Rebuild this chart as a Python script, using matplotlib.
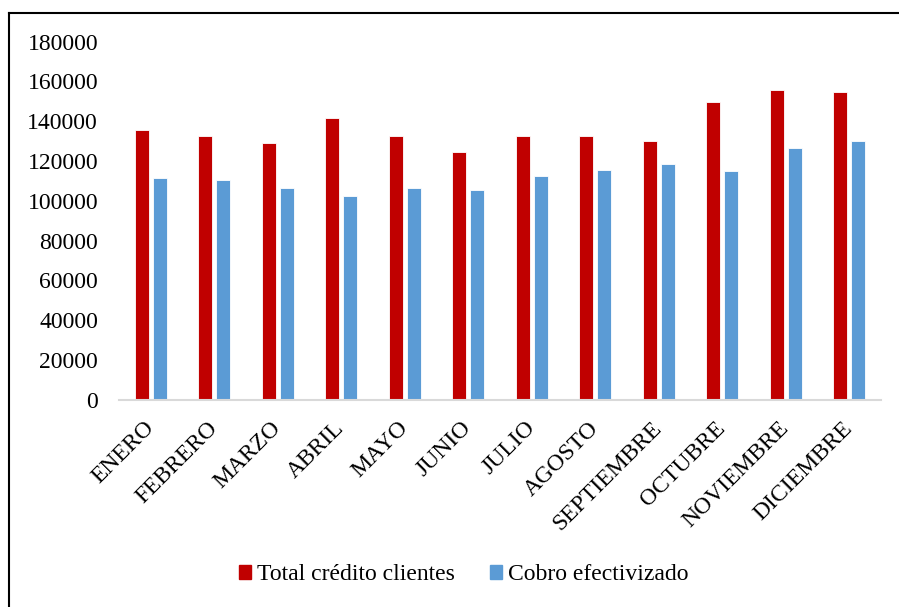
import matplotlib
matplotlib.use("Agg")
import matplotlib.pyplot as plt
from matplotlib.lines import Line2D
from matplotlib.patches import Patch
import numpy as np

meses = ["ENERO", "FEBRERO", "MARZO", "ABRIL", "MAYO", "JUNIO", "JULIO",
         "AGOSTO", "SEPTIEMBRE", "OCTUBRE", "NOVIEMBRE", "DICIEMBRE"]
total_credito = [135500, 132500, 129000, 141400, 132500, 124300,
                 132800, 132500, 130200, 149400, 155600, 154400]
cobro_efectivizado = [111400, 110500, 106500, 102500, 106200, 105400,
                      112400, 115400, 118400, 115200, 126500, 129800]
yticks = [0, 20000, 40000, 60000, 80000, 100000, 120000, 140000, 160000, 180000]

ROJO = "#C00000"
AZUL = "#5B9BD5"

plt.rcParams["font.family"] = ["Liberation Serif", "DejaVu Serif"]

fig = plt.figure(figsize=(8.99, 6.07), dpi=100)
ax = fig.add_axes([119 / 899, 1 - 400 / 607, 762 / 899, 358.5 / 607])

x = np.arange(len(meses))
w = 0.22
off = 0.142
ax.bar(x - off, total_credito, w, color=ROJO, edgecolor="white", linewidth=0.6)
ax.bar(x + off, cobro_efectivizado, w, color=AZUL, edgecolor="white", linewidth=0.6)

ax.set_xlim(-0.5, len(meses) - 0.5)
ax.set_ylim(0, 180000)
ax.set_yticks(yticks)
ax.set_yticklabels([str(v) for v in yticks], fontsize=17)
ax.set_xticks(x)
ax.set_xticklabels(meses, fontsize=17, rotation=45, ha="right",
                   va="center", rotation_mode="anchor")
ax.tick_params(axis="y", length=0, pad=15)
ax.tick_params(axis="x", length=0, pad=18)

for s in ["top", "right", "left"]:
    ax.spines[s].set_visible(False)
ax.spines["bottom"].set_color("#D9D9D9")
ax.spines["bottom"].set_linewidth(1.5)

handles = [Patch(color=ROJO), Patch(color=AZUL)]
fig.legend(handles, ["Total crédito clientes", "Cobro efectivizado"],
           loc="center", bbox_to_anchor=(464 / 899, 1 - 575 / 607), ncol=2,
           frameon=False, fontsize=17, handlelength=0.51, handleheight=0.51,
           handletextpad=0.25, columnspacing=1.5)

# marco del grafico
fig.add_artist(Line2D([9 / 899, 1], [1 - 13 / 607, 1 - 13 / 607], color="black", lw=1.5))
fig.add_artist(Line2D([9 / 899, 9 / 899], [0, 1 - 13 / 607], color="black", lw=1.5))

fig.savefig("out.png", dpi=100)
